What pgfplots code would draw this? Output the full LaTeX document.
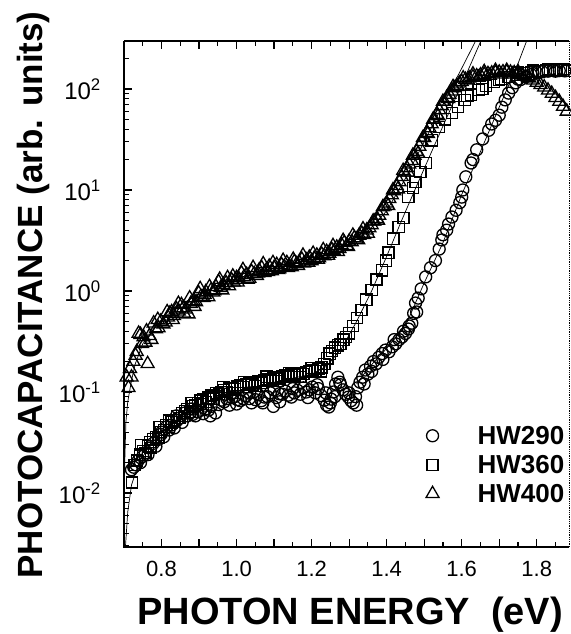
\documentclass[border=0pt]{standalone}
\usepackage{fontspec}
\setmainfont{Liberation Sans}
\usepackage{pgfplots}
\usepackage{pgfplotstable}
\pgfplotsset{compat=1.18}
\newcommand{\fsz}[1]{\fontsize{#1}{#1}\selectfont}

% HW290 (circles)
\pgfplotstableread{
E V
0.720 0.017
0.726 0.018
0.732 0.019
0.738 0.021
0.744 0.020
0.750 0.023
0.757 0.025
0.764 0.024
0.771 0.028
0.778 0.031
0.785 0.029
0.792 0.034
0.799 0.038
0.806 0.036
0.813 0.045
0.820 0.042
0.827 0.047
0.834 0.044
0.841 0.052
0.848 0.055
0.855 0.050
0.862 0.062
0.869 0.058
0.876 0.062
0.883 0.060
0.890 0.058
0.897 0.064
0.904 0.066
0.911 0.061
0.918 0.068
0.925 0.066
0.932 0.072
0.944 0.062
0.953 0.075
0.960 0.083
0.967 0.080
0.974 0.086
0.981 0.074
0.988 0.088
0.995 0.090
1.002 0.084
1.010 0.082
1.018 0.086
1.026 0.092
1.034 0.086
1.040 0.078
1.050 0.084
1.058 0.094
1.066 0.082
1.074 0.089
1.082 0.090
1.090 0.098
1.098 0.072
1.106 0.088
1.114 0.096
1.122 0.095
1.130 0.102
1.138 0.093
1.146 0.089
1.154 0.098
1.162 0.104
1.170 0.095
1.178 0.110
1.186 0.100
1.194 0.105
1.202 0.112
1.210 0.098
1.218 0.108
1.226 0.092
1.234 0.083
1.240 0.074
1.246 0.071
1.252 0.085
1.258 0.100
1.264 0.120
1.270 0.140
1.277 0.118
1.284 0.105
1.291 0.095
1.298 0.089
1.305 0.082
1.311 0.078
1.317 0.090
1.323 0.110
1.329 0.125
1.336 0.140
1.343 0.165
1.350 0.150
1.357 0.180
1.365 0.200
1.372 0.190
1.379 0.220
1.388 0.240
1.397 0.260
1.406 0.250
1.415 0.280
1.424 0.300
1.433 0.330
1.441 0.350
1.450 0.380
1.458 0.420
1.467 0.480
1.472 0.600
1.477 0.760
1.484 0.850
1.492 1.05
1.504 1.38
1.517 1.70
1.530 2.00
1.540 2.60
1.547 3.20
1.560 4.00
1.574 5.40
1.585 6.30
1.595 7.50
1.603 10.0
1.611 13.5
1.625 18.5
1.640 25.0
1.656 32.0
1.672 39.0
1.690 49.0
1.707 66.0
1.716 78.0
1.725 91.0
1.735 103
1.744 115
1.757 124
1.770 132
1.785 139
1.800 145
1.815 148
1.830 150
1.845 152
1.860 152
1.875 151
0.800 0.040
0.840 0.058
0.880 0.068
0.930 0.058
0.970 0.095
1.000 0.076
1.035 0.098
1.070 0.078
1.100 0.105
1.115 0.080
1.150 0.108
1.190 0.088
1.215 0.118
1.238 0.098
1.250 0.078
1.262 0.090
1.275 0.125
1.300 0.098
1.320 0.074
1.340 0.120
1.360 0.160
1.390 0.210
1.420 0.330
1.445 0.400
1.460 0.450
1.480 0.620
1.550 3.60
1.565 4.60
1.600 8.50
1.630 20.0
1.680 45.0
1.700 55.0
1.750 125
1.790 142
1.850 150
}\hwA

% HW360 (squares)
\pgfplotstableread{
E V
0.721 0.0127
0.728 0.019
0.735 0.021
0.742 0.024
0.750 0.026
0.757 0.025
0.764 0.029
0.771 0.028
0.778 0.034
0.785 0.036
0.792 0.035
0.799 0.040
0.806 0.042
0.813 0.047
0.820 0.045
0.827 0.050
0.834 0.053
0.841 0.058
0.848 0.055
0.855 0.062
0.862 0.065
0.869 0.068
0.876 0.064
0.883 0.072
0.890 0.074
0.897 0.078
0.904 0.082
0.911 0.085
0.918 0.080
0.925 0.088
0.932 0.092
0.939 0.093
0.946 0.097
0.953 0.095
0.960 0.100
0.967 0.104
0.974 0.100
0.981 0.108
0.988 0.110
0.995 0.106
1.002 0.113
1.010 0.117
1.018 0.112
1.026 0.119
1.034 0.122
1.042 0.118
1.050 0.125
1.058 0.128
1.066 0.124
1.074 0.131
1.082 0.135
1.090 0.130
1.098 0.137
1.106 0.140
1.114 0.136
1.122 0.143
1.130 0.147
1.138 0.142
1.146 0.150
1.154 0.146
1.162 0.152
1.170 0.155
1.178 0.150
1.186 0.158
1.194 0.162
1.202 0.165
1.210 0.160
1.218 0.170
1.226 0.175
1.234 0.190
1.242 0.215
1.248 0.240
1.255 0.255
1.262 0.275
1.270 0.290
1.277 0.300
1.285 0.330
1.292 0.350
1.299 0.380
1.310 0.450
1.321 0.540
1.333 0.650
1.346 0.820
1.360 1.02
1.373 1.30
1.387 1.60
1.398 2.00
1.405 2.40
1.418 3.30
1.432 4.30
1.445 5.30
1.458 8.50
1.470 10.5
1.477 12.0
1.490 15.0
1.504 18.5
1.520 31.0
1.540 42.0
1.556 50.0
1.574 58.0
1.590 66.0
1.608 78.0
1.625 88.0
1.645 98.0
1.665 108
1.685 117
1.705 125
1.725 132
1.745 138
1.765 143
1.785 147
1.805 150
1.825 153
1.845 155
1.865 154
1.882 152
0.745 0.030
0.770 0.032
0.795 0.045
0.820 0.052
0.860 0.058
0.880 0.078
0.910 0.076
0.940 0.085
0.965 0.112
0.990 0.098
1.020 0.125
1.050 0.115
1.080 0.142
1.110 0.128
1.140 0.155
1.170 0.140
1.200 0.172
1.225 0.160
1.615 85.0
1.655 100
1.700 122
1.750 145
1.790 152
1.830 156
1.870 158
}\hwB

% HW400 (triangles)
\pgfplotstableread{
E V
0.707 0.14
0.712 0.11
0.716 0.17
0.720 0.14
0.725 0.20
0.731 0.23
0.734 0.25
0.739 0.38
0.744 0.37
0.748 0.30
0.752 0.35
0.757 0.31
0.763 0.19
0.768 0.36
0.773 0.33
0.779 0.48
0.785 0.42
0.792 0.43
0.798 0.50
0.805 0.47
0.811 0.49
0.817 0.55
0.822 0.60
0.827 0.62
0.833 0.57
0.840 0.66
0.846 0.63
0.853 0.73
0.858 0.68
0.865 0.66
0.872 0.59
0.878 0.75
0.885 0.80
0.892 0.78
0.899 0.95
0.905 0.88
0.912 0.86
0.918 0.98
0.925 0.87
0.932 1.02
0.938 0.97
0.945 1.10
0.952 1.23
0.958 1.08
0.965 1.15
0.972 1.20
0.980 1.12
0.987 1.28
0.993 1.22
1.000 1.35
1.007 1.30
1.013 1.50
1.020 1.38
1.027 1.45
1.034 1.33
1.040 1.55
1.047 1.48
1.054 1.42
1.060 1.60
1.067 1.69
1.074 1.52
1.080 1.62
1.087 1.75
1.094 1.58
1.100 1.70
1.107 1.82
1.114 1.65
1.120 1.81
1.127 1.74
1.134 1.90
1.140 1.78
1.147 1.73
1.154 1.95
1.160 1.85
1.167 1.92
1.174 2.05
1.180 1.88
1.187 2.02
1.194 2.15
1.200 1.98
1.207 2.10
1.214 2.25
1.220 2.12
1.227 2.30
1.234 2.22
1.240 2.45
1.247 2.35
1.254 2.55
1.260 2.48
1.267 2.70
1.274 2.62
1.280 2.85
1.287 3.00
1.294 2.80
1.300 3.10
1.307 3.05
1.314 3.35
1.320 3.25
1.327 3.55
1.334 3.70
1.340 3.60
1.347 4.00
1.354 4.20
1.360 4.50
1.367 4.90
1.374 5.20
1.380 5.60
1.387 6.20
1.394 6.90
1.400 7.40
1.407 8.20
1.414 8.90
1.420 9.80
1.427 11.0
1.434 12.0
1.440 13.5
1.447 15.0
1.454 16.5
1.460 18.0
1.467 19.5
1.474 22.0
1.480 24.0
1.487 27.0
1.494 30.0
1.500 33.0
1.507 37.0
1.514 41.0
1.520 45.0
1.527 50.0
1.534 56.0
1.540 62.0
1.547 68.0
1.554 75.0
1.560 82.0
1.567 88.0
1.574 95.0
1.580 102
1.587 108
1.594 114
1.600 118
1.610 124
1.620 128
1.630 131
1.640 134
1.650 137
1.660 139
1.670 141
1.680 143
1.690 145
1.700 146
1.710 147
1.720 147
1.730 146
1.740 144
1.750 141
1.760 137
1.770 133
1.780 128
1.790 122
1.800 116
1.810 110
1.820 104
1.830 97
1.840 90
1.850 82
1.860 75
1.870 67
1.880 60
0.760 0.40
0.790 0.52
0.815 0.62
0.830 0.52
0.845 0.75
0.860 0.60
0.875 0.85
0.888 0.70
0.903 1.05
0.915 0.92
0.928 1.10
0.941 1.00
0.955 1.30
0.962 1.02
0.976 1.35
0.990 1.40
1.003 1.22
1.017 1.62
1.030 1.30
1.044 1.70
1.057 1.50
1.071 1.85
1.084 1.55
1.097 1.90
1.111 1.62
1.124 2.00
1.137 1.70
1.151 2.05
1.164 1.78
1.177 2.25
1.191 1.92
1.204 2.35
1.217 2.05
1.231 2.55
1.244 2.25
1.257 2.80
1.270 2.45
1.284 3.15
1.297 2.75
1.310 3.55
1.324 3.20
1.337 4.10
1.350 3.70
1.364 4.90
1.377 5.00
1.390 6.80
1.404 7.00
1.417 10.0
1.430 10.2
1.444 15.5
1.457 15.0
1.470 22.0
1.484 23.0
1.497 33.0
1.510 36.0
1.524 50.0
1.537 54.0
1.550 75.0
1.564 80.0
1.577 105
1.590 105
1.604 128
1.617 122
1.630 140
1.645 130
1.660 148
1.675 136
1.690 152
1.705 140
1.720 152
1.735 140
1.750 148
}\hwC

\pgfplotsset{legimg/.style={legend image code/.code={\path[draw=none,fill=none] (0bp,0bp) -- (44bp,0bp); \draw[##1, only marks] plot coordinates {(0bp,0bp)};}}}

\begin{document}
\begin{tikzpicture}
\begin{axis}[
  name=ax,
  scale only axis, width=445bp, height=506bp,
  ymode=log,
  xmin=0.7, xmax=1.886, ymin=0.00292, ymax=298.5,
  axis line style={draw=none},
  xtick={0.7,0.8,0.9,1.0,1.1,1.2,1.3,1.4,1.5,1.6,1.7,1.8},
  xticklabels={,0.8,,1.0,,1.2,,1.4,,1.6,,1.8},
  minor xtick={0.75,0.85,0.95,1.05,1.15,1.25,1.35,1.45,1.55,1.65,1.75,1.85},
  ytick={0.01,0.1,1,10,100},
  yticklabels={10\textsuperscript{-2},10\textsuperscript{-1},10\textsuperscript{0},10\textsuperscript{1},10\textsuperscript{2}},
  minor ytick={0.003,0.004,0.005,0.006,0.007,0.008,0.009,0.02,0.03,0.04,0.05,0.06,0.07,0.08,0.09,0.2,0.3,0.4,0.5,0.6,0.7,0.8,0.9,2,3,4,5,6,7,8,9,20,30,40,50,60,70,80,90,200},
  ytick pos=left,
  tick align=inside,
  major tick length=8bp, minor tick length=5bp,
  every tick/.style={black, line width=1.2bp},
  xticklabel style={font=\fsz{22bp}, anchor=north, inner sep=0pt, yshift=-14bp},
  yticklabel style={font=\fsz{24bp}, anchor=east, inner sep=0pt, xshift=-23bp},
  xlabel={PHOTON ENERGY\hspace{0.55em}(eV)},
  xlabel style={at={(axis description cs:0.508,0)}, anchor=base, yshift=-77bp, font=\bfseries\fsz{38bp}, inner sep=0pt},
  ylabel={PHOTOCAPACITANCE (arb. units)},
  ylabel style={at={(axis description cs:-0.184,0.498)}, anchor=base, font=\bfseries\fsz{35bp}, inner sep=0pt},
  legend style={at={(0.992,0.24)}, anchor=north east, draw=none, fill=none, font=\bfseries\fsz{26bp}, row sep=9bp, inner sep=0pt, nodes={inner sep=1bp, text height=18bp, text depth=0bp}},
  legend cell align=left,
]
% fit curves
\addplot[black, line width=0.7bp, forget plot] coordinates {
(0.700,0.0030) (0.702,0.02) (0.705,0.05) (0.710,0.08) (0.720,0.13) (0.730,0.19) (0.750,0.30) (0.800,0.52) (0.850,0.73) (0.900,0.93) (1.000,1.33) (1.100,1.70) (1.200,2.05) (1.250,2.35) (1.300,2.9) (1.350,3.9) (1.400,6.2) (1.450,13) (1.500,30) (1.550,70) (1.600,160) (1.637,298)
};
\addplot[black, line width=0.7bp, forget plot] coordinates {
(0.704,0.0030) (0.710,0.0065) (0.720,0.012) (0.740,0.020) (0.770,0.030) (0.800,0.040) (0.900,0.075) (1.000,0.100) (1.100,0.125) (1.200,0.150) (1.240,0.180) (1.280,0.27) (1.320,0.50) (1.360,1.0) (1.400,2.2) (1.440,5.0) (1.480,11) (1.520,24) (1.560,52) (1.600,110) (1.651,298)
};
\addplot[black, line width=0.7bp, forget plot] coordinates {
(1.320,0.12) (1.350,0.17) (1.400,0.27) (1.450,0.45) (1.500,1.2) (1.550,3.0) (1.600,9) (1.650,24) (1.700,66) (1.750,178) (1.773,298)
};
% data
\addplot[only marks, mark=o, mark size=6bp, line width=1.3bp, black, legimg] table[x=E,y=V] {\hwA};
\addlegendentry{HW290}
\addplot[only marks, mark=square, mark size=5.6bp, line width=1.3bp, black, legimg] table[x=E,y=V] {\hwB};
\addlegendentry{HW360}
\addplot[only marks, mark=triangle, mark size=7.5bp, line width=1.3bp, black, legimg] table[x=E,y=V] {\hwC};
\addlegendentry{HW400}
\end{axis}
\draw[line width=2.6bp] (ax.north west) -- (ax.south west) -- (ax.south east);
\draw[line width=1.6bp] (ax.north west) -- (ax.north east);
\draw[line width=0.8bp, densely dotted] (ax.south east) -- (ax.north east);
\pgfresetboundingbox
\useasboundingbox ([shift={(-124bp,-87bp)}]ax.south west) rectangle ([shift={(2bp,41bp)}]ax.north east);
\end{tikzpicture}
\end{document}
